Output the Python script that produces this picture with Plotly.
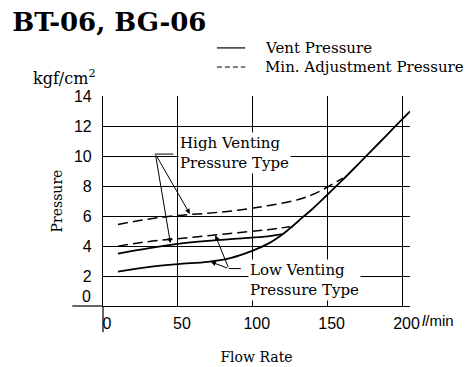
import plotly.graph_objects as go

# flow rate (l/min) vs pressure (kgf/cm2)
low_vent_x = [10, 30, 50, 70, 85, 100, 110, 120, 125, 133, 140, 150, 160, 170, 180, 190, 200, 205]
low_vent_y = [2.3, 2.6, 2.8, 2.95, 3.2, 3.7, 4.15, 4.8, 5.2, 5.9, 6.5, 7.45, 8.42, 9.43, 10.45, 11.47, 12.5, 13.0]

high_vent_x = [10, 30, 50, 70, 90, 110, 120]
high_vent_y = [3.5, 3.85, 4.15, 4.35, 4.5, 4.65, 4.8]

low_min_x = [10, 30, 50, 70, 90, 110, 125]
low_min_y = [4.0, 4.3, 4.5, 4.7, 4.9, 5.1, 5.3]

high_min_x = [10, 30, 50, 70, 90, 110, 130, 140, 150, 160]
high_min_y = [5.45, 5.8, 6.05, 6.2, 6.4, 6.7, 7.1, 7.45, 7.95, 8.55]

x_ticks = [0, 50, 100, 150, 200]
y_ticks = [2, 4, 6, 8, 10, 12, 14]   # the 0 label sits above the axis line, added below

SERIF = "DejaVu Serif"
SANS = "Liberation Sans, Arial"

fig = go.Figure()

solid = dict(color="black", width=1.8)
dashed = dict(color="black", width=1.5, dash="10px,5px")

fig.add_trace(go.Scatter(x=low_vent_x, y=low_vent_y, mode="lines", line=solid,
                         name="Vent Pressure", line_shape="spline"))
fig.add_trace(go.Scatter(x=high_vent_x, y=high_vent_y, mode="lines", line=solid,
                         name="Vent Pressure", line_shape="spline"))
fig.add_trace(go.Scatter(x=low_min_x, y=low_min_y, mode="lines", line=dashed,
                         name="Min. Adjustment Pressure", line_shape="spline"))
fig.add_trace(go.Scatter(x=high_min_x, y=high_min_y, mode="lines", line=dashed,
                         name="Min. Adjustment Pressure", line_shape="spline"))

# arrows from the labels to the curves
arrow = dict(text="", showarrow=True, axref="x", ayref="y", arrowhead=2,
             arrowsize=1, arrowwidth=1, arrowcolor="black", standoff=0)
annotations = [
    dict(x=58, y=6.15, ax=35, ay=10.15, **arrow),
    dict(x=45, y=4.2, ax=35, ay=10.15, **arrow),
    dict(x=75, y=4.72, ax=84, ay=2.5, **arrow),
    dict(x=72, y=2.95, ax=84, ay=2.5, **arrow),
    dict(x=50, y=10.2, xanchor="left", yanchor="middle", showarrow=False,
         text="High Venting<br>Pressure Type", align="left", bgcolor="white",
         font=dict(family=SERIF, size=15, color="black")),
    dict(x=97, y=1.75, xanchor="left", yanchor="middle", showarrow=False,
         text="Low Venting<br>Pressure Type", align="left", bgcolor="white",
         font=dict(family=SERIF, size=15, color="black")),
    # y = 0 label, lifted off the axis line
    dict(xref="paper", yref="paper", x=-0.032, y=0.044, xanchor="right", yanchor="middle",
         showarrow=False, text="0", font=dict(family=SANS, size=16, color="black")),
    # unit labels
    dict(xref="paper", yref="paper", x=-0.233, y=1.09, xanchor="left", yanchor="middle",
         showarrow=False, text="kgf/cm<sup>2</sup>",
         font=dict(family=SERIF, size=16, color="black")),
    dict(xref="paper", yref="paper", x=1.033, y=-0.067, xanchor="left", yanchor="middle",
         showarrow=False, text="<i>l</i>/min",
         font=dict(family=SANS, size=15, color="black")),
    # legend
    dict(xref="paper", yref="paper", x=0.522, y=1.229, xanchor="left", yanchor="middle",
         showarrow=False, text="Vent Pressure",
         font=dict(family=SERIF, size=15, color="black")),
    dict(xref="paper", yref="paper", x=0.522, y=1.138, xanchor="left", yanchor="middle",
         showarrow=False, text="Min. Adjustment Pressure",
         font=dict(family=SERIF, size=15, color="black")),
]

shapes = [
    # little bars where the label arrows start
    dict(type="line", xref="x", yref="y", x0=34.5, x1=47, y0=10.15, y1=10.15,
         line=dict(color="black", width=1)),
    dict(type="line", xref="x", yref="y", x0=84, x1=92, y0=2.5, y1=2.5,
         line=dict(color="black", width=1)),
    # axes sticking out past the origin
    dict(type="line", xref="paper", yref="paper", x0=-0.1, x1=0, y0=0, y1=0,
         line=dict(color="black", width=1.2)),
    dict(type="line", xref="paper", yref="paper", x0=0, x1=0, y0=0, y1=-0.125,
         line=dict(color="black", width=1.2)),
    # legend samples
    dict(type="line", xref="paper", yref="paper", x0=0.371, x1=0.463, y0=1.229, y1=1.229,
         line=dict(color="black", width=1.2)),
    dict(type="line", xref="paper", yref="paper", x0=0.371, x1=0.463, y0=1.138, y1=1.138,
         line=dict(color="black", width=1.2, dash="5px,3px")),
]

fig.update_layout(
    width=467, height=359,
    margin=dict(l=95, r=65, t=88, b=61),
    plot_bgcolor="white", paper_bgcolor="white",
    showlegend=False,
    title=dict(text="<b>BT-06, BG-06</b>", x=0.009, xanchor="left", y=0.961, yanchor="middle",
               font=dict(family=SERIF, size=26, color="black")),
    annotations=annotations,
    shapes=shapes,
    xaxis=dict(range=[0, 205], tickvals=x_ticks, showgrid=True, gridcolor="black", gridwidth=1,
               zeroline=False, showline=True, linecolor="black", linewidth=1.2,
               ticks="", ticklabelstandoff=3, ticklabelshift=4, automargin=False,
               tickfont=dict(family=SANS, size=16, color="black"),
               title=dict(text="Flow Rate", standoff=20,
                          font=dict(family=SERIF, size=14, color="black"))),
    yaxis=dict(range=[0, 14.03], tickvals=y_ticks, showgrid=True, gridcolor="black", gridwidth=1,
               zeroline=False, showline=True, linecolor="black", linewidth=1.2,
               ticks="", ticklabelstandoff=7, automargin=False,
               tickfont=dict(family=SANS, size=16, color="black"),
               title=dict(text="Pressure", standoff=8,
                          font=dict(family=SERIF, size=14, color="black"))),
)

fig.write_html("out.html")
